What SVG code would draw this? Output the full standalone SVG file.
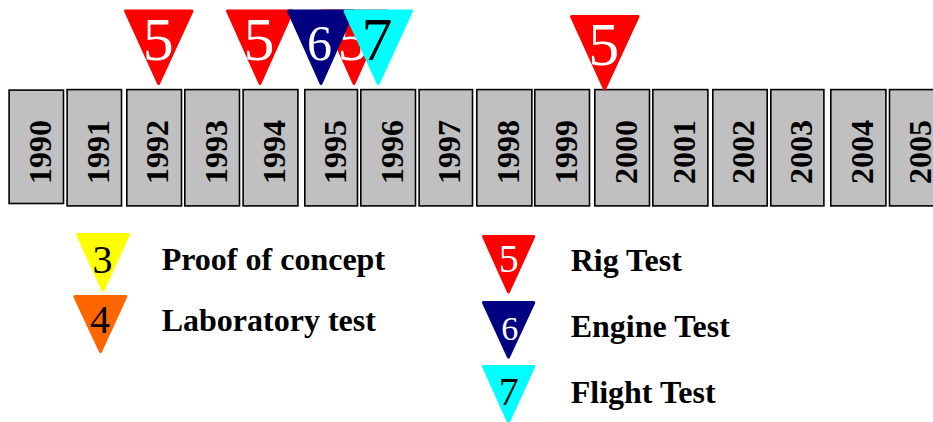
<svg xmlns="http://www.w3.org/2000/svg" width="933" height="422" viewBox="0 0 933 422">
<style>
.yr rect{fill:#c0c0c0;stroke:#000;stroke-width:1.6}
.yr text{font-family:"Liberation Serif","Times New Roman",serif;font-weight:bold;font-size:32px;text-anchor:middle;fill:#000}
.tri{stroke-width:3;stroke-linejoin:round}
.red{fill:#ff0000;stroke:#ff0000}
.navy{fill:#000080;stroke:#000080}
.cyan{fill:#00ffff;stroke:#00ffff}
.yel{fill:#ffff00;stroke:#ffff00}
.org{fill:#ff6600;stroke:#ff6600}
.dg{font-family:"Liberation Serif","Times New Roman",serif;text-anchor:middle}
.big{font-size:62px}
.sm{font-size:40px}
.w{fill:#fff}
.k{fill:#000}
.lbl{font-family:"Liberation Serif","Times New Roman",serif;font-weight:bold;font-size:32px;fill:#000}
</style>
<g id="years" class="yr">
<g id="y1990"><rect x="9.1" y="90.1" width="54.4" height="113.4"/><text transform="translate(51,152) rotate(-90)">1990</text></g>
<g id="y1991"><rect x="67.1" y="89.6" width="54.4" height="116.3"/><text transform="translate(108.5,152) rotate(-90)">1991</text></g>
<g id="y1992"><rect x="126.8" y="89.6" width="54.7" height="116.3"/><text transform="translate(168.3,152) rotate(-90)">1992</text></g>
<g id="y1993"><rect x="184.8" y="89.6" width="54.7" height="116.3"/><text transform="translate(226.5,152) rotate(-90)">1993</text></g>
<g id="y1994"><rect x="243.1" y="89.6" width="54.8" height="116.3"/><text transform="translate(285,152) rotate(-90)">1994</text></g>
<g id="y1995"><rect x="304.8" y="89.6" width="52.7" height="116.3"/><text transform="translate(345.5,152) rotate(-90)">1995</text></g>
<g id="y1996"><rect x="360.8" y="89.6" width="54.7" height="116.3"/><text transform="translate(402.5,152) rotate(-90)">1996</text></g>
<g id="y1997"><rect x="419.1" y="89.6" width="53.4" height="116.3"/><text transform="translate(460,152) rotate(-90)">1997</text></g>
<g id="y1998"><rect x="476.8" y="89.6" width="55.1" height="116.3"/><text transform="translate(518.5,152) rotate(-90)">1998</text></g>
<g id="y1999"><rect x="534.8" y="89.6" width="54.7" height="116.3"/><text transform="translate(576.5,152) rotate(-90)">1999</text></g>
<g id="y2000"><rect x="594.8" y="89.6" width="54.7" height="116.3"/><text transform="translate(636.5,152) rotate(-90)">2000</text></g>
<g id="y2001"><rect x="652.8" y="89.6" width="55.1" height="116.3"/><text transform="translate(694.5,152) rotate(-90)">2001</text></g>
<g id="y2002"><rect x="712.8" y="89.6" width="54.4" height="116.3"/><text transform="translate(754,152) rotate(-90)">2002</text></g>
<g id="y2003"><rect x="770.8" y="89.6" width="53.1" height="116.3"/><text transform="translate(811.5,152) rotate(-90)">2003</text></g>
<g id="y2004"><rect x="830.8" y="89.6" width="55.1" height="116.3"/><text transform="translate(872.5,152) rotate(-90)">2004</text></g>
<g id="y2005"><rect x="889.5" y="89.6" width="55" height="116.3"/><text transform="translate(931,152) rotate(-90)">2005</text></g>
</g>
<g id="milestones">
<g id="m1992"><polygon class="tri red" points="125.5,11 192,11 158.5,83.5"/><text class="dg big w" x="158.3" y="60">5</text></g>
<g id="m1994"><polygon class="tri red" points="227.5,11 292.5,11 260,83.5"/><text class="dg big w" x="259" y="59.5">5</text></g>
<g id="m1995r"><polygon class="tri red" points="321.5,11 386.5,11 354,83.5"/><text class="dg big w" x="353" y="59.5">5</text></g>
<g id="m1995e"><polygon class="tri navy" points="288.5,11 353.5,11 321,83.5"/><text class="dg w" font-size="50" x="319.5" y="59.5">6</text></g>
<g id="m1996f"><polygon class="tri cyan" points="345,11 411.5,11 378.3,83.5"/><text class="dg big k" x="377" y="60">7</text></g>
<g id="m2000"><polygon class="tri red" points="571.5,16.5 638,16.5 604.5,89"/><text class="dg big w" x="603.7" y="65">5</text></g>
</g>
<g id="legend">
<g id="l3"><polygon class="tri yel" points="77.5,234.5 128.5,234.5 103,290.5"/><text class="dg sm k" x="102.5" y="273">3</text><text class="lbl" x="161.7" y="269.5">Proof of concept</text></g>
<g id="l4"><polygon class="tri org" points="74.8,296.5 125.8,296.5 100.5,351.5"/><text class="dg sm k" x="100" y="333">4</text><text class="lbl" x="161.7" y="331">Laboratory test</text></g>
<g id="l5"><polygon class="tri red" points="483.5,236.5 533.8,236.5 508.5,292"/><text class="dg sm w" x="508.7" y="271.5">5</text><text class="lbl" x="570.7" y="271">Rig Test</text></g>
<g id="l6"><polygon class="tri navy" points="483.5,302.5 533.8,302.5 508.5,357"/><text class="dg w" font-size="34" x="509.7" y="340">6</text><text class="lbl" x="570.7" y="337">Engine Test</text></g>
<g id="l7"><polygon class="tri cyan" points="483.5,366.5 533.8,366.5 508.5,422"/><text class="dg sm k" x="508.7" y="405">7</text><text class="lbl" x="570.7" y="403">Flight Test</text></g>
</g>
</svg>
